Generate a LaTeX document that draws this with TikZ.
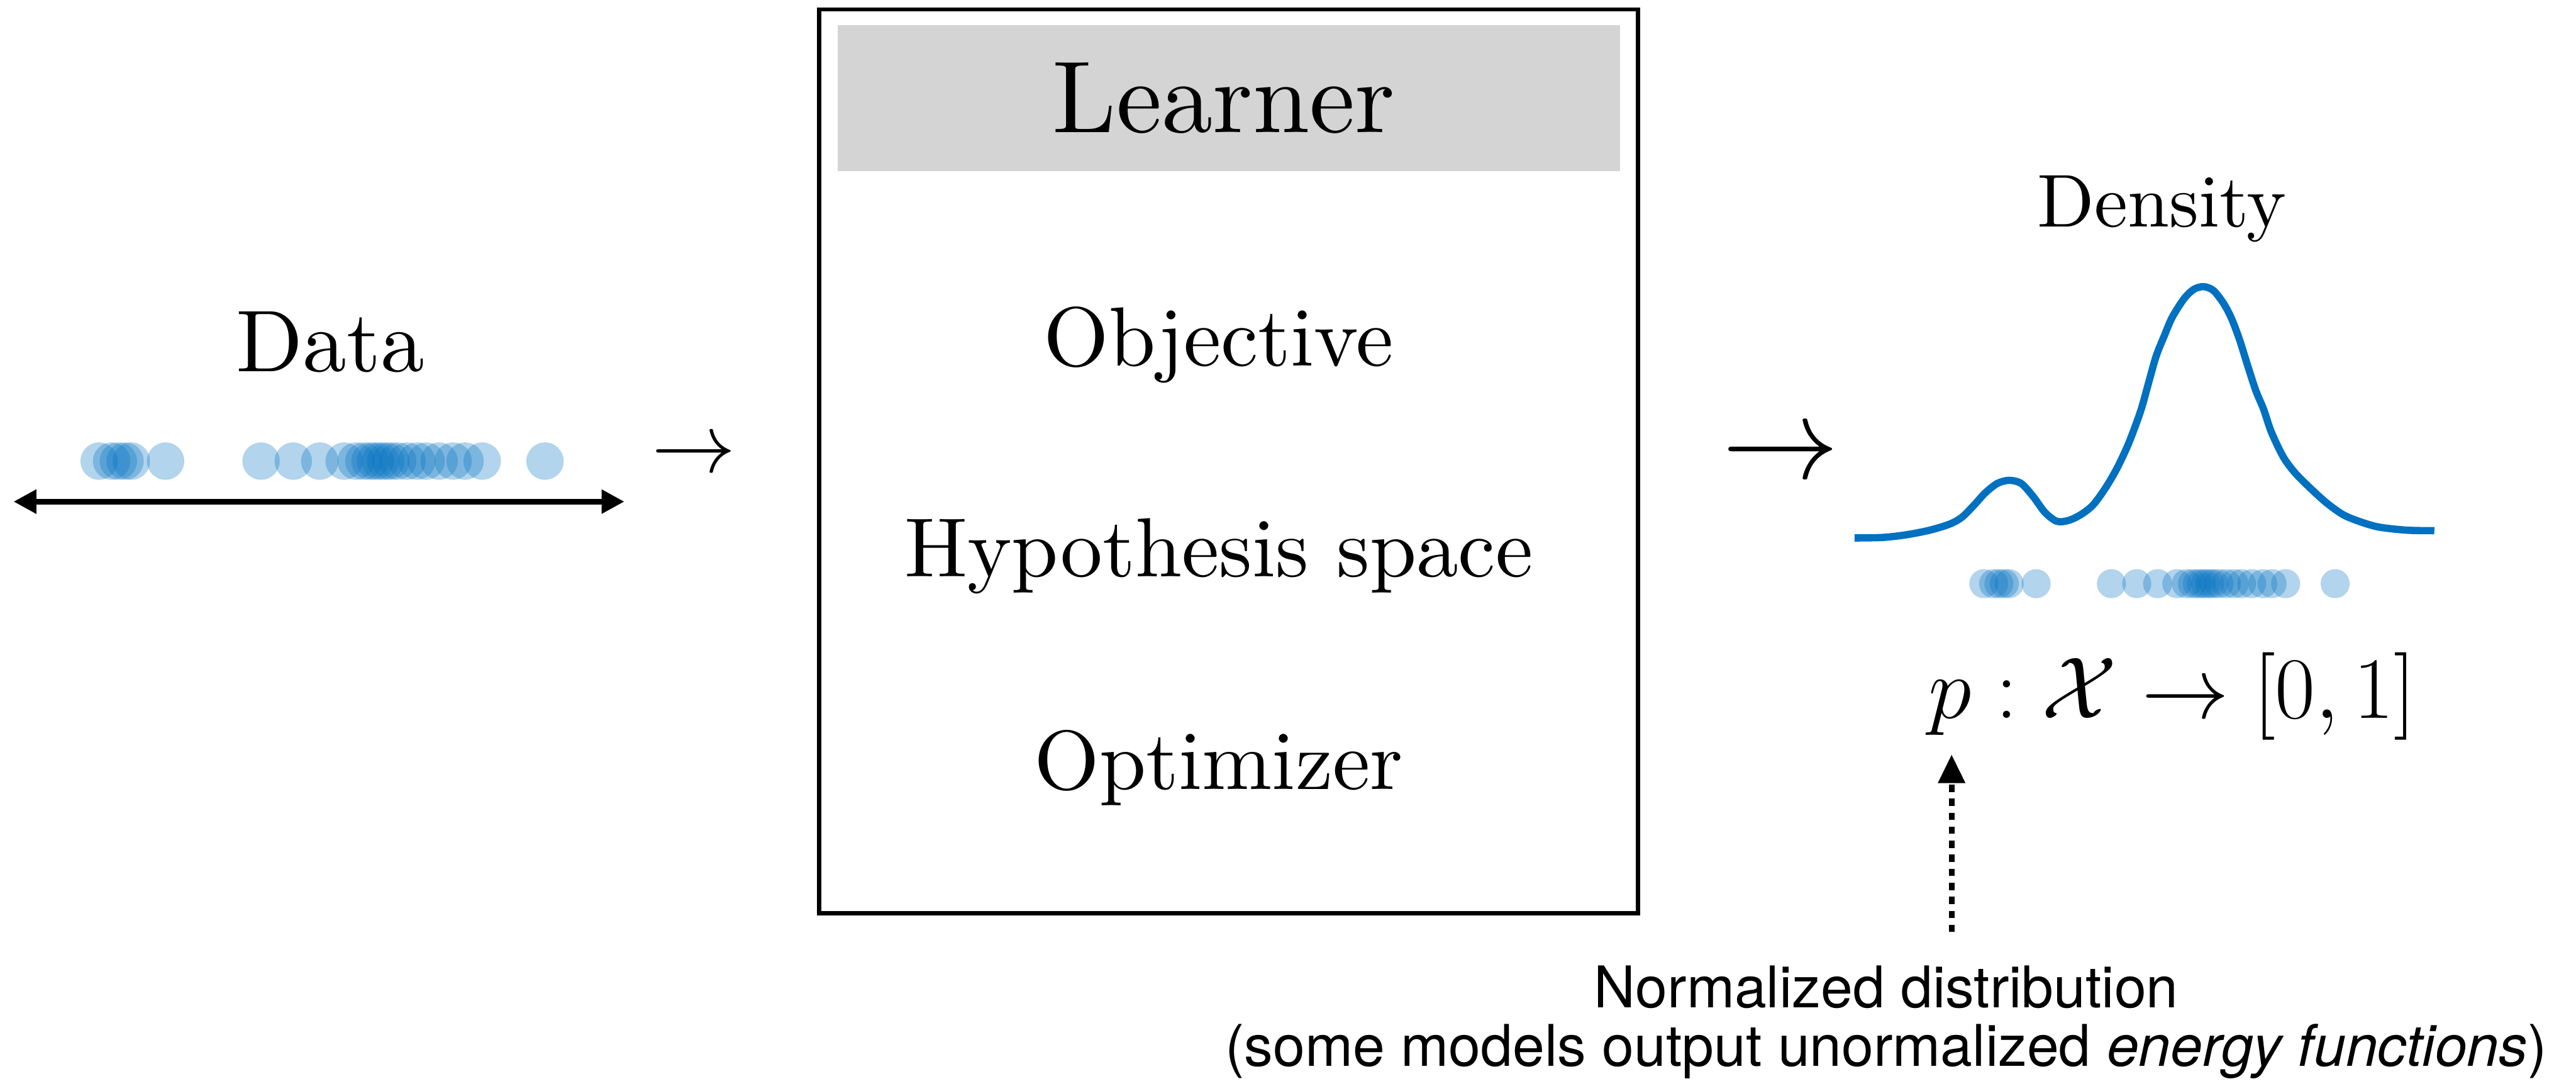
\RequirePackage{fix-cm}
\documentclass[tikz,border=0pt]{standalone}
\usepackage{amsmath,amssymb}
\usepackage{fontspec}
\setmainfont{lmroman10-regular.otf}[ItalicFont=lmroman10-italic.otf]
\newfontfamily\notefont{TeX Gyre Heros}
\usetikzlibrary{arrows.meta,positioning}
\definecolor{DensBlue}{HTML}{0070C0}
\definecolor{HeadGray}{HTML}{D4D4D4}

\begin{document}
\begin{tikzpicture}[
  bigtext/.style={font=\fontsize{46}{50}\selectfont, inner sep=0pt},
  learnbox/.style={rectangle, draw=black, line width=0.08cm,
                   minimum width=15.78cm, minimum height=17.41cm},
  headbar/.style={rectangle, fill=HeadGray, inner sep=0pt,
                  minimum width=15.07cm, minimum height=2.80cm},
  dot/.style={fill=DensBlue, opacity=0.3},
  axisarr/.style={{Triangle[length=0.44cm,width=0.44cm]}-{Triangle[length=0.44cm,width=0.44cm]},
                  line width=0.11cm},
  densline/.style={draw=DensBlue, line width=0.14cm, line join=round},
  notearr/.style={-{Triangle[length=0.55cm,width=0.5cm]}, line width=0.11cm,
                  dash pattern=on 0.14cm off 0.13cm},
  notetext/.style={font=\notefont\fontsize{31.5}{34}\selectfont, inner sep=0pt, anchor=base}
]
  \useasboundingbox (0,0) rectangle (49.63,21);

  % data on the left
  \node[font=\fontsize{48}{52}\selectfont, inner sep=0pt, anchor=base] (data) at (6.36,13.85) {Data};
  \coordinate (axl) at (0.26,11.34);
  \coordinate (axr) at (12.03,11.34);
  \draw[axisarr] (axl) -- (axr);

  % samples, then the same samples under the density
  \foreach \o in {0,0.24,0.37,0.50,0.62,1.28,3.12,3.74,4.25,4.72,4.95,5.10,5.22,
                  5.32,5.42,5.52,5.62,5.75,5.93,6.12,6.30,6.55,6.82,7.05,7.38,8.59} {
    \fill[dot] ({1.91+\o},12.12) circle (0.36);
    \fill[dot] ({38.22+0.788*\o},9.76) circle (0.28);
  }

  \node[bigtext] (toin) at (13.37,12.2) {$\rightarrow$};

  % learner box
  \node[learnbox] (learner) at (23.67,12.115) {};
  \node[headbar] (head) at (23.675,19.11) {};
  \node[font=\fontsize{56}{60}\selectfont, inner sep=0pt] (headtxt) at (23.58,19.11) {Learner};
  \node[bigtext, anchor=base] (obj) at (23.48,13.95) {Objective};
  \node[bigtext, anchor=base] (hyp) at (23.48,9.90) {Hypothesis space};
  \node[bigtext, anchor=base] (opt) at (23.48,5.80) {Optimizer};

  \node[font=\fontsize{64}{70}\selectfont, inner sep=0pt] (toout) at (34.31,12.2) {$\rightarrow$};

  % density
  \node[font=\fontsize{41}{45}\selectfont, inner sep=0pt, anchor=base] (dens) at (41.65,16.63) {Density};
  \draw[densline] plot[smooth] coordinates {
    (35.73,10.64) (36.27,10.65) (36.72,10.70) (37.18,10.79) (37.57,10.91)
    (37.80,11.04) (38.03,11.27) (38.25,11.51) (38.48,11.69) (38.71,11.75)
    (38.94,11.69) (39.17,11.44) (39.40,11.13) (39.63,10.96) (39.86,10.98)
    (40.09,11.09) (40.32,11.27) (40.55,11.58) (40.78,11.97) (41.01,12.46)
    (41.24,13.08) (41.39,13.61) (41.54,14.14) (41.70,14.54) (41.85,14.89)
    (42.08,15.25) (42.27,15.43) (42.46,15.48) (42.65,15.40) (42.85,15.14)
    (43.00,14.85) (43.15,14.45) (43.30,13.97) (43.46,13.48) (43.61,13.12)
    (43.76,12.68) (43.99,12.20) (44.22,11.89) (44.53,11.58) (44.83,11.31)
    (45.14,11.09) (45.45,10.96) (45.83,10.85) (46.37,10.79) (46.90,10.78)};
  \node[font=\fontsize{48}{52}\selectfont, inner sep=0pt, anchor=base] (pmap) at (41.85,7.17)
       {$p : \mathcal{X} \to [0,1]$};

  % note
  \coordinate (nbot) at (37.60,3.05);
  \coordinate (ntop) at (37.60,6.47);
  \draw[notearr] (nbot) -- (ntop);
  \node[notetext] (note1) at (36.34,1.60) {Normalized distribution};
  \node[notetext] (note2) at (36.34,0.47) {(some models output unormalized \textit{energy functions})};
\end{tikzpicture}
\end{document}
